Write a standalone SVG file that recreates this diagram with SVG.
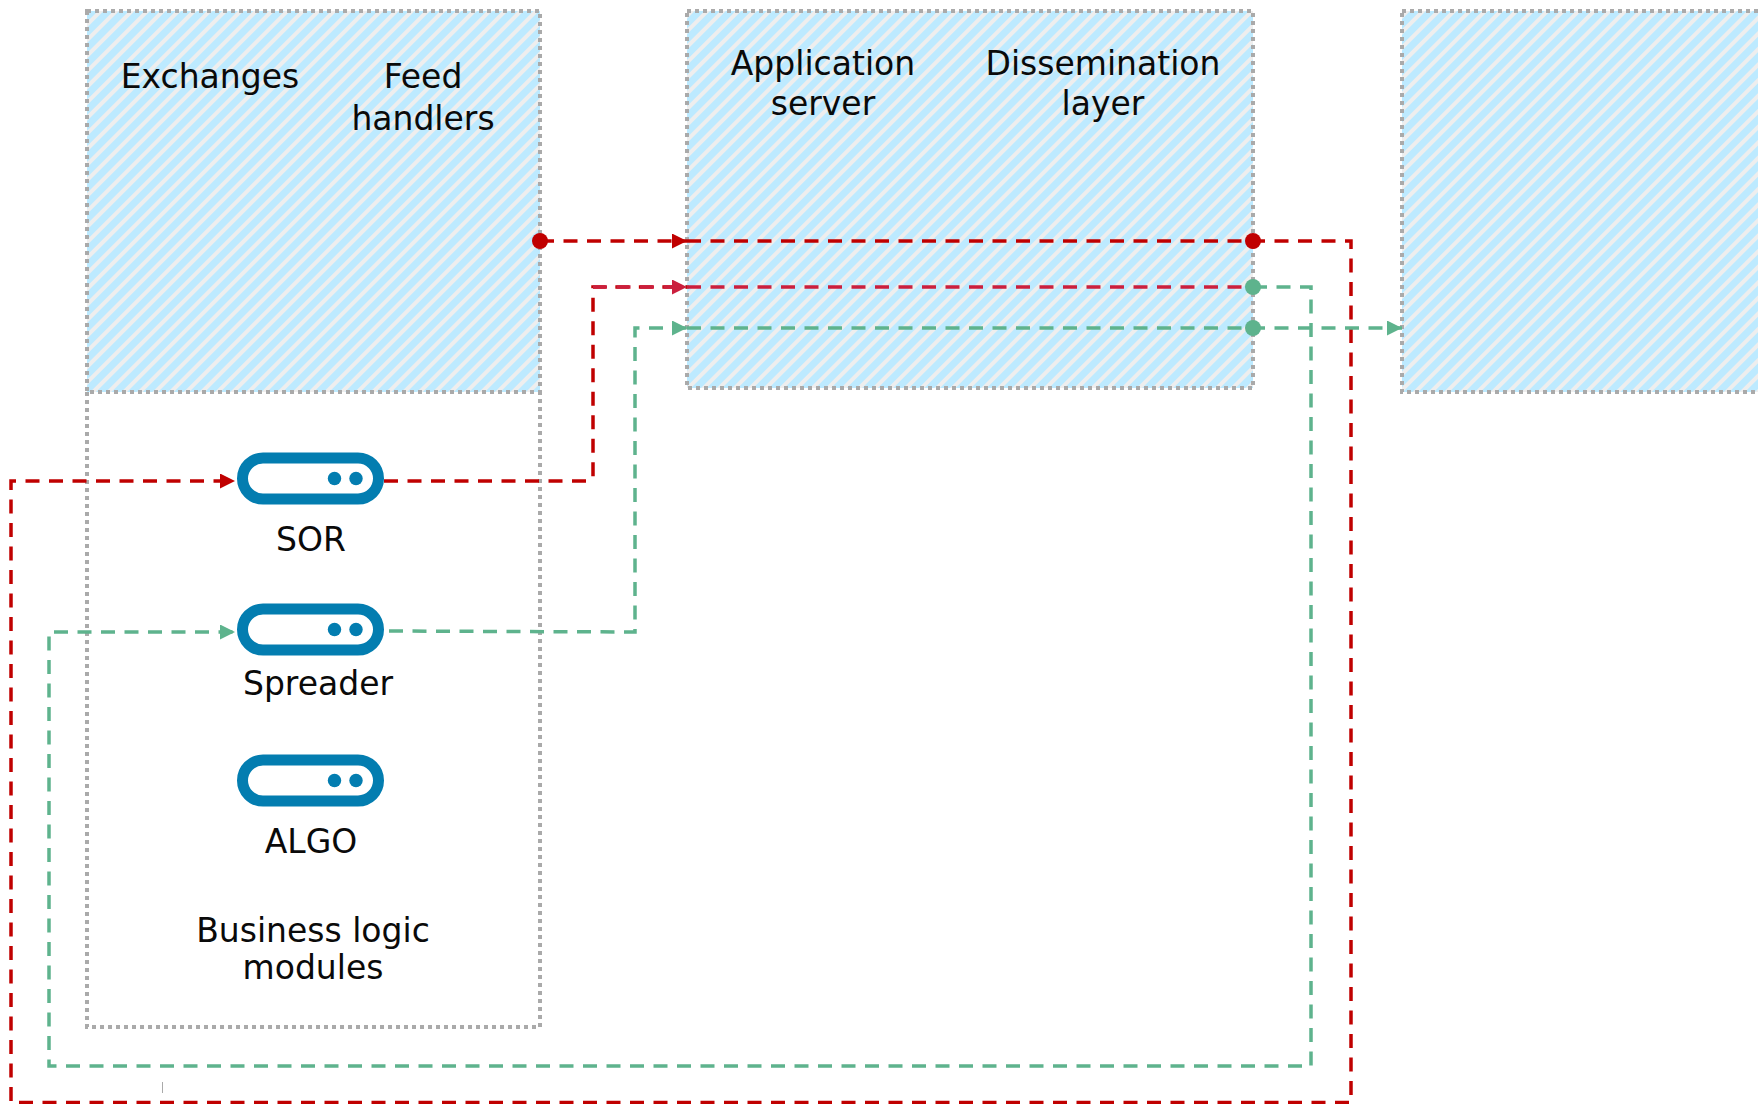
<svg xmlns="http://www.w3.org/2000/svg" width="1758" height="1104" viewBox="0 0 1758 1104">
<style>
.t{font-family:"DejaVu Sans",Verdana,sans-serif;font-size:33px;fill:#0a0a0a;text-anchor:middle}
.b{fill:url(#h);stroke:#aaa;stroke-width:4;stroke-dasharray:4 4}
.o{fill:none;stroke:#aaa;stroke-width:4;stroke-dasharray:4 4}
.c{fill:none;stroke-width:3.5;stroke-dasharray:14 9.5}
.r{stroke:#c00000}.k{stroke:#cb1f3d}.g{stroke:#5eb38d}
.p{fill:#fff;stroke:#037db0;stroke-width:11}
.d{fill:#037db0}
</style>
<defs>
<pattern id="h" width="11" height="11" patternUnits="userSpaceOnUse" patternTransform="rotate(45)">
<rect width="11" height="11" fill="#bdeaff"/><rect width="4" height="11" fill="#eeeeee"/>
</pattern>
<marker id="mr" markerWidth="15" markerHeight="15" refX="15" refY="7.5" orient="auto" markerUnits="userSpaceOnUse"><path d="M0 0L15 7.5L0 15z" fill="#c00000"/></marker>
<marker id="mk" markerWidth="15" markerHeight="15" refX="15" refY="7.5" orient="auto" markerUnits="userSpaceOnUse"><path d="M0 0L15 7.5L0 15z" fill="#cb1f3d"/></marker>
<marker id="mg" markerWidth="15" markerHeight="15" refX="15" refY="7.5" orient="auto" markerUnits="userSpaceOnUse"><path d="M0 0L15 7.5L0 15z" fill="#5eb38d"/></marker>
</defs>
<g id="box-exchanges"><rect class="b" x="87" y="11" width="453" height="381"/><text class="t" x="210" y="88">Exchanges</text><text class="t" x="423" y="88">Feed</text><text class="t" x="423" y="130">handlers</text></g>
<g id="box-app"><rect class="b" x="687" y="11" width="566" height="377"/><text class="t" x="823" y="75">Application</text><text class="t" x="823" y="115">server</text><text class="t" x="1103" y="75">Dissemination</text><text class="t" x="1103" y="115">layer</text></g>
<g id="box-right"><rect class="b" x="1402" y="11" width="370" height="381"/></g>
<g id="box-logic"><path class="o" d="M87 392V1027H540V392"/><text class="t" x="313" y="942">Business logic</text><text class="t" x="313" y="979">modules</text></g>
<g id="connectors">
<path class="c r" d="M540 241H687" marker-end="url(#mr)"/>
<path class="c r" d="M687 241H1351V1102.500H11V481H235" marker-end="url(#mr)"/>
<path class="c r" d="M384 481H589L593 477V287H687" />
<path class="c k" d="M593 287H687" marker-end="url(#mk)"/>
<path class="c k" d="M687 287H1253"/>
<path class="c g" d="M1253 287H1311V1066H49V632H235" marker-end="url(#mg)"/>
<path class="c g" d="M389 631L635 632V328H687" marker-end="url(#mg)"/>
<path class="c g" d="M687 328H1402" marker-end="url(#mg)"/>
<path d="M162.500 1082V1093" stroke="#aaa" stroke-width="1"/>
</g>
<circle cx="540" cy="241" r="8" fill="#c00000"/>
<circle cx="1253" cy="241" r="8" fill="#c00000"/>
<circle cx="1253" cy="287" r="8" fill="#5eb38d"/>
<circle cx="1253" cy="328" r="8" fill="#5eb38d"/>
<g id="sor"><rect class="p" x="242.500" y="458" width="136" height="41" rx="20.500"/><circle class="d" cx="334.500" cy="478.500" r="6.700"/><circle class="d" cx="356" cy="478.500" r="6.700"/><text class="t" x="311" y="551">SOR</text></g>
<g id="spreader"><rect class="p" x="242.500" y="609" width="136" height="41" rx="20.500"/><circle class="d" cx="334.500" cy="629.500" r="6.700"/><circle class="d" cx="356" cy="629.500" r="6.700"/><text class="t" x="318" y="695">Spreader</text></g>
<g id="algo"><rect class="p" x="242.500" y="760" width="136" height="41" rx="20.500"/><circle class="d" cx="334.500" cy="780.500" r="6.700"/><circle class="d" cx="356" cy="780.500" r="6.700"/><text class="t" x="311" y="853">ALGO</text></g>
</svg>
